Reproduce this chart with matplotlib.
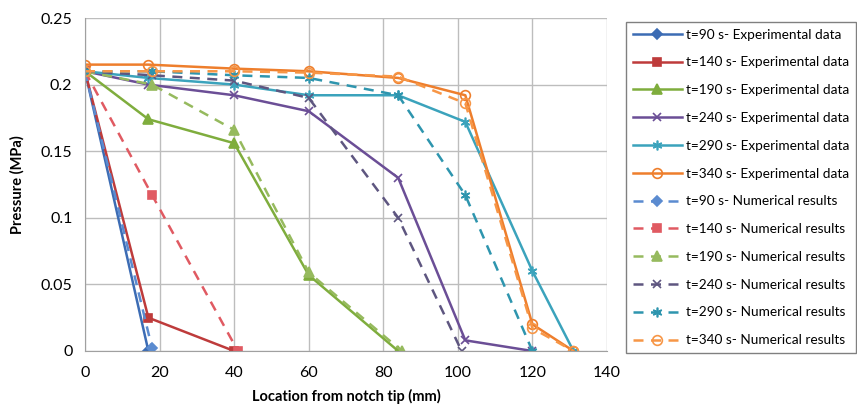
import numpy as np
import matplotlib
matplotlib.use("Agg")
import matplotlib.pyplot as plt

plt.rcParams['font.family'] = ['Lato', 'DejaVu Sans']

times = [90, 140, 190, 240, 290, 340]

# experimental data
exp_x = [
    [0, 17],
    [0, 17, 40],
    [0, 17, 40, 60, 84],
    [0, 17, 40, 60, 84, 102, 120],
    [0, 17, 40, 60, 84, 102, 120, 131],
    [0, 17, 40, 60, 84, 102, 120, 131],
]
exp_y = [
    [0.21, 0.0],
    [0.21, 0.025, 0.0],
    [0.21, 0.174, 0.156, 0.057, 0.0],
    [0.21, 0.200, 0.192, 0.180, 0.130, 0.008, 0.0],
    [0.21, 0.205, 0.200, 0.192, 0.192, 0.172, 0.060, 0.0],
    [0.215, 0.215, 0.212, 0.210, 0.205, 0.192, 0.020, 0.0],
]

# numerical results
num_x = [
    [0, 18],
    [0, 18, 41],
    [0, 18, 40, 60, 85],
    [0, 18, 40, 60, 84, 101],
    [0, 18, 40, 60, 84, 102, 120],
    [0, 18, 40, 60, 84, 102, 120, 131],
]
num_y = [
    [0.21, 0.002],
    [0.21, 0.117, 0.0],
    [0.21, 0.200, 0.166, 0.059, 0.0],
    [0.21, 0.207, 0.203, 0.190, 0.100, 0.0],
    [0.21, 0.210, 0.207, 0.205, 0.192, 0.117, 0.0],
    [0.21, 0.210, 0.210, 0.209, 0.206, 0.186, 0.017, 0.0],
]

exp_colors = ['#3C6CB4', '#BE3B3B', '#7FAD3D', '#6B4E96', '#3BA3BC', '#EE7E2C']
num_colors = ['#5B8BD0', '#E05A62', '#96BA5E', '#5E5680', '#2E95AE', '#F79646']
markers = ['D', 's', '^', 'x', (6, 2, 0), 'o']
msizes = [5, 6, 7, 6, 7, 7]

fig = plt.figure(figsize=(8.57, 4.08), dpi=100)
ax = fig.add_axes([85/857, 57/408, 522/857, 333/408])

for i, t in enumerate(times):
    mfc = 'none' if markers[i] == 'o' else exp_colors[i]
    ax.plot(exp_x[i], exp_y[i], color=exp_colors[i], lw=1.8, marker=markers[i],
            ms=msizes[i], mfc=mfc, mec=exp_colors[i], mew=1.2,
            label='t=%d s- Experimental data' % t)
for i, t in enumerate(times):
    mfc = 'none' if markers[i] == 'o' else num_colors[i]
    ax.plot(num_x[i], num_y[i], color=num_colors[i], lw=1.8, ls=(0, (4, 3)),
            marker=markers[i], ms=msizes[i], mfc=mfc, mec=num_colors[i], mew=1.2,
            label='t=%d s- Numerical results' % t)

ax.set_xlim(0, 140)
ax.set_ylim(0, 0.25)
ax.set_xticks(np.arange(0, 141, 20))
ax.set_yticks([0, 0.05, 0.1, 0.15, 0.2, 0.25])
ax.set_yticklabels(['0', '0.05', '0.1', '0.15', '0.2', '0.25'])
ax.grid(True, color='#BDBDBD', lw=1)
ax.set_axisbelow(True)
for s in ['top', 'right']:
    ax.spines[s].set_visible(False)
for s in ['left', 'bottom']:
    ax.spines[s].set_color('#A0A0A0')
ax.tick_params(axis='x', labelsize=11.5, length=0, pad=11)
ax.tick_params(axis='y', labelsize=11.5, length=0, pad=9)
ax.set_xlabel('Location from notch tip (mm)', fontsize=10.5, fontweight='bold', labelpad=6)
ax.set_ylabel('Pressure (MPa)', fontsize=10.5, fontweight='bold', labelpad=12)

leg = fig.legend(loc='upper left', bbox_to_anchor=(619/857, 1 - 15/408), fontsize=9.8,
                 handlelength=3.6, labelspacing=1.16, borderpad=0.5, handletextpad=0.3,
                 fancybox=False, edgecolor='#808080', framealpha=1)
leg.get_frame().set_linewidth(1)

fig.savefig('out.png', dpi=100)
